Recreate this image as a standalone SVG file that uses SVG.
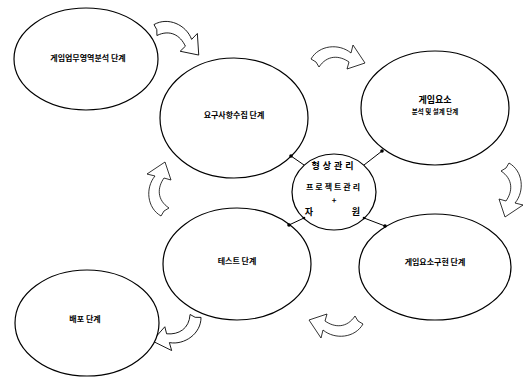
<svg xmlns="http://www.w3.org/2000/svg" width="528" height="378" viewBox="0 0 528 378">
<style>
.n{fill:#fff;stroke:#000;stroke-width:1.2}
.t{font-family:"Noto Sans CJK KR","Noto Sans",sans-serif;font-size:8px;font-weight:bold;fill:#000;text-anchor:middle}
.s{font-size:6.5px}
.c{stroke:#000;stroke-width:1;fill:none}
.d{fill:#000}
.a{fill:#fff;stroke:#000;stroke-width:0.8}
</style>
<defs>
<path id="arr" d="M2,16 C10,2 30,0 42,10 L44,2 L56,20 L38,26 L40,19 C30,12 18,12 10,24 L7,19 Z"/>
</defs>
<rect width="528" height="378" fill="#fff"/>
<g id="arrows">
<use href="#arr" class="a" transform="translate(178,35) rotate(30) translate(-28,-13)"/>
<use href="#arr" class="a" transform="translate(309,43)"/>
<use href="#arr" class="a" transform="translate(512,189) rotate(90) translate(-28,-13)"/>
<use href="#arr" class="a" transform="translate(337,327) rotate(180) translate(-28,-13)"/>
<use href="#arr" class="a" transform="translate(158,190) rotate(-90) translate(-28,-13)"/>
<use href="#arr" class="a" transform="translate(180,333) rotate(150) translate(-28,-13)"/>
</g>
<g id="n1"><ellipse class="n" cx="86" cy="59" rx="72" ry="51"/><text class="t" x="88" y="61">게임업무영역분석 단계</text></g>
<g id="n2"><ellipse class="n" cx="234" cy="118" rx="74" ry="60"/><text class="t" x="234" y="118">요구사항수집 단계</text></g>
<g id="n3"><ellipse class="n" cx="435" cy="108" rx="74" ry="57"/><text class="t" x="435" y="103" style="font-size:9px">게임요소</text><text class="t s" x="435" y="114">분석 및 설계 단계</text></g>
<g id="n4"><ellipse class="n" cx="237" cy="264" rx="74" ry="56"/><text class="t" x="237" y="264">테스트 단계</text></g>
<g id="n5"><ellipse class="n" cx="435" cy="267" rx="76" ry="53"/><text class="t" x="435" y="265">게임요소구현 단계</text></g>
<g id="n6"><ellipse class="n" cx="87" cy="323" rx="72" ry="53"/><text class="t" x="85" y="322">배포 단계</text></g>
<g id="center"><ellipse class="n" cx="334" cy="192" rx="42" ry="38"/>
<text class="t" x="334" y="169" style="font-size:9px;letter-spacing:3px">형상관리</text>
<text class="t" x="334" y="190" style="letter-spacing:2px">프로젝트관리</text>
<text class="t" x="334" y="203">+</text>
<text class="t" x="309" y="215" style="font-size:9px">자</text>
<text class="t" x="356" y="215" style="font-size:9px">원</text>
</g>
<g id="connectors">
<line class="c" x1="291" y1="156" x2="304" y2="165"/>
<line class="c" x1="382" y1="151" x2="364" y2="165"/>
<line class="c" x1="289" y1="225" x2="304" y2="218"/>
<line class="c" x1="385" y1="226" x2="364" y2="218"/>
<circle class="d" cx="291" cy="156" r="1.8"/>
<circle class="d" cx="382" cy="151" r="1.8"/>
<circle class="d" cx="289" cy="225" r="1.8"/>
<circle class="d" cx="385" cy="226" r="1.8"/>
<circle class="d" cx="304" cy="218" r="1.3"/>
<circle class="d" cx="364" cy="218" r="1.3"/>
</g>
</svg>
